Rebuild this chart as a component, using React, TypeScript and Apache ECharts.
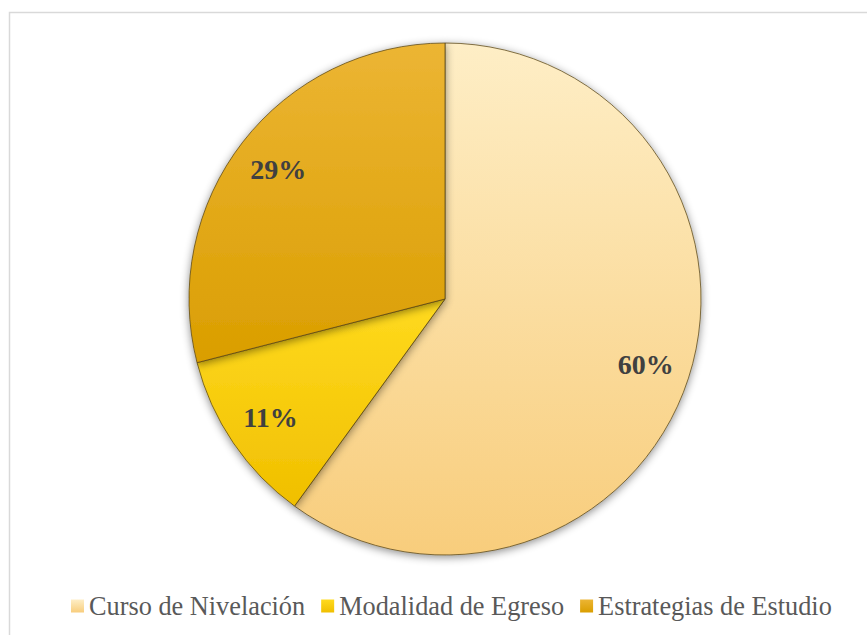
import React, { useEffect, useRef } from "react";
import * as echarts from "echarts";

const categories = ["Curso de Nivelación", "Modalidad de Egreso", "Estrategias de Estudio"];
const values = [60, 11, 29];
const topColors = ["#FEEEC6", "#FFDA1E", "#ECB534"];
const bottomColors = ["#F8CD7C", "#F0BF00", "#DA9E00"];

export default function App() {
  const ref = useRef<HTMLDivElement>(null);
  useEffect(() => {
    if (!ref.current) return;
    const chart = echarts.init(ref.current, null, { renderer: "svg" });
    const grad = (i: number) =>
      new echarts.graphic.LinearGradient(0, 0, 0, 1, [
        { offset: 0, color: topColors[i] },
        { offset: 1, color: bottomColors[i] },
      ]);
    const data = categories.map((name, i) => ({
      name,
      value: values[i],
      itemStyle: { color: grad(i) },
    }));
    chart.setOption({
      animation: false,
      backgroundColor: "#ffffff",
      textStyle: { fontFamily: "Liberation Serif" },
      graphic: [
        {
          type: "rect",
          shape: { x: 9.5, y: 12.5, width: 900, height: 700 },
          style: { fill: "none", stroke: "#d9d9d9", lineWidth: 1.5 },
          silent: true,
        },
      ],
      legend: {
        data: categories,
        top: 588,
        left: 66,
        icon: "rect",
        itemWidth: 13,
        itemHeight: 13,
        itemGap: 16,
        itemStyle: { borderWidth: 0, shadowBlur: 0 },
        textStyle: {
          fontFamily: "Liberation Serif",
          fontSize: 26.3,
          color: "#595959",
        },
      },
      series: [
        {
          type: "pie",
          center: [445, 299],
          radius: [0, 256],
          startAngle: 90,
          clockwise: true,
          label: { show: false },
          labelLine: { show: false },
          itemStyle: {
            borderColor: "rgba(90,70,20,0.75)",
            borderWidth: 1,
            shadowBlur: 8,
            shadowColor: "rgba(0,0,0,0.45)",
            shadowOffsetX: 0,
            shadowOffsetY: 2,
          },
          emphasis: { disabled: true },
          data,
        },
        {
          type: "pie",
          center: [445, 299],
          radius: [160, 256],
          startAngle: 90,
          clockwise: true,
          silent: true,
          itemStyle: { color: "rgba(0,0,0,0)" },
          label: {
            show: true,
            position: "inside",
            formatter: "{d}%",
            fontFamily: "Liberation Serif",
            fontWeight: "bold",
            fontSize: 28,
            color: "#404040",
          },
          labelLine: { show: false },
          emphasis: { disabled: true },
          legendHoverLink: false,
          data: categories.map((name, i) => ({ name: name + " ", value: values[i] })),
        },
      ],
    });
    return () => chart.dispose();
  }, []);
  return (
    <div
      ref={ref}
      style={{ position: "fixed", left: 0, top: 0, width: 867, height: 635 }}
    />
  );
}
